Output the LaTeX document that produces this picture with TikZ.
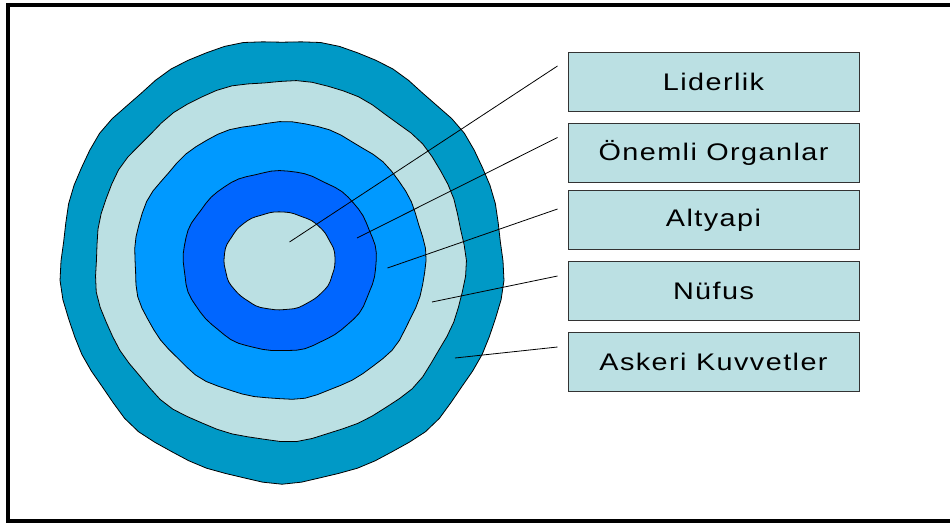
\documentclass[tikz,border=0pt]{standalone}
\usepackage{fontspec}
\setmainfont{Liberation Sans}
\newfontfamily\lblfont[FakeStretch=1.2, LetterSpace=6]{Liberation Sans}
\definecolor{ringA}{HTML}{0099C6}
\definecolor{ringB}{HTML}{BBE0E3}
\definecolor{ringC}{HTML}{0099FF}
\definecolor{ringD}{HTML}{0066FF}
\definecolor{boxfill}{HTML}{BBE0E3}
\tikzset{
  ring/.style={draw=black, line width=0.8pt, line join=round},
  lblbox/.style={draw=black!80, line width=0.9pt, fill=boxfill, minimum width=291pt, minimum height=59pt, inner sep=0pt, font=\lblfont\fontsize{24}{28}\selectfont},
  leader/.style={draw=black, line width=0.8pt}
}
\newcommand{\wobble}[6]{% cx cy rx ry phase color
  \filldraw[ring, fill=#6] plot[samples=73, domain=0:360, variable=\t]
    ({#1+#3*(1+0.006*sin(9*\t+#5)+0.004*sin(17*\t+2*#5))*cos(\t)},
     {#2+#4*(1+0.006*sin(9*\t+#5)+0.004*sin(17*\t+2*#5))*sin(\t)}) -- cycle;
}
\begin{document}
\begin{tikzpicture}[x=1pt,y=-1pt]
\useasboundingbox (0,0) rectangle (950,527);
\draw[line width=4pt] (8,5) -- (956,5);
\draw[line width=4pt] (8,3) -- (8,521.3) -- (956,521.3);
% rings
\wobble{282}{261}{221}{221}{0}{ringA}
\wobble{280}{260.5}{185}{180}{40}{ringB}
\wobble{279.5}{260.5}{145.5}{138.5}{80}{ringC}
\wobble{279.5}{261}{96.5}{90}{120}{ringD}
\wobble{279.5}{261}{55.5}{49}{160}{ringB}
% boxes
\node[lblbox] (b1) at (713.5,81.5) {Liderlik};
\node[lblbox] (b2) at (713.5,152.5) {Önemli Organlar};
\node[lblbox] (b3) at (713.5,220) {Altyapi};
\node[lblbox] (b4) at (713.5,290.5) {Nüfus};
\node[lblbox] (b5) at (713.5,362) {Askeri Kuvvetler};
% leader end points
\coordinate (s1) at (557.5,66);
\coordinate (s2) at (557.5,137.5);
\coordinate (s3) at (557.5,209);
\coordinate (s4) at (557.5,276);
\coordinate (s5) at (557.5,347);
\coordinate (t1) at (289.5,242);
\coordinate (t2) at (357,238);
\coordinate (t3) at (387.5,268);
\coordinate (t4) at (432,302);
\coordinate (t5) at (455,358);
\draw[leader] (s1) -- (t1);
\draw[leader] (s2) -- (t2);
\draw[leader] (s3) -- (t3);
\draw[leader] (s4) -- (t4);
\draw[leader] (s5) -- (t5);
\end{tikzpicture}
\end{document}
